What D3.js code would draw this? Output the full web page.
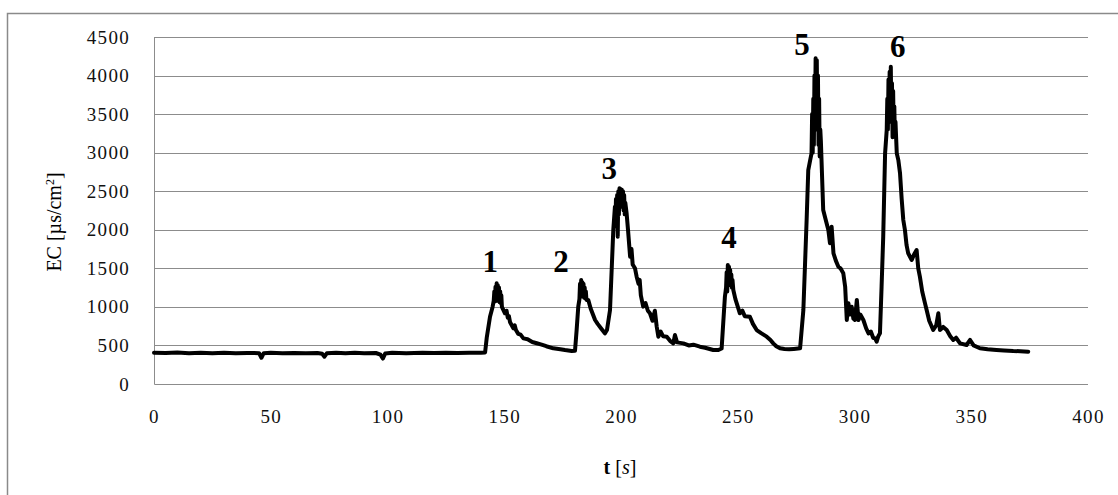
<!DOCTYPE html>
<html>
<head>
<meta charset="utf-8">
<script src="https://cdn.jsdelivr.net/npm/d3@7"></script>
<style>
  html, body { margin: 0; padding: 0; background: #fff; }
  svg { display: block; }
  text { font-family: "Liberation Serif", "Times New Roman", serif; fill: #000; }
</style>
</head>
<body>
<svg id="chart" width="1118" height="495"></svg>
<script>
// ---- data ----
const xTicks = [0, 50, 100, 150, 200, 250, 300, 350, 400];
const yTicks = [0, 500, 1000, 1500, 2000, 2500, 3000, 3500, 4000, 4500];

const timeS = [
  0, 5, 10, 15, 20, 25, 30, 35, 40, 45, 46, 47, 50, 55, 60, 65, 70, 72, 73, 74, 78, 82, 86, 90, 95, 97, 98, 99,
  102, 108, 115, 120, 125, 130, 135, 140, 141.8,
  // peak 1
  142.5, 143.9, 145, 145.5, 145.75, 146, 146.25, 146.5, 146.75, 147, 147.25, 147.5, 147.75, 148, 148.25, 148.5,
  148.75, 149, 150.3, 151, 151.5, 152, 152.5, 153.9, 154.5, 155, 156, 157, 158.2, 160, 162, 163.9, 166, 168,
  171, 174, 176, 178.9, 180.3,
  // peak 2
  181, 181.7, 182.2, 182.45, 182.7, 182.95, 183.2, 183.45, 183.7, 183.95, 184.2, 184.45, 184.7, 184.95, 185.2,
  186, 187, 188.9, 190, 191.5, 193.1, 194, 195.3, 196.7, 197.4,
  // peak 3
  197.6, 197.85, 198.1, 198.35, 198.6, 198.85, 199.1, 199.35, 199.6, 199.85, 200.1, 200.35, 200.6, 200.85,
  201.1, 201.35, 201.6, 201.85, 202.4, 203, 203.9, 204.5, 205, 206, 206.7, 207.5, 208, 208.5, 209.5, 210.5,
  211.5, 212.4, 213.5, 214.5, 215.3, 216, 217, 218, 219.6, 221, 222.4, 223.1, 224, 226.7, 229, 231, 233.8,
  236, 239.5, 241.7, 243.1,
  // peak 4
  243.8, 244.5, 245, 245.25, 245.5, 245.75, 246, 246.25, 246.5, 246.75, 247, 247.25, 247.5, 247.75, 248.1,
  249, 250.9, 252, 253, 255.2, 256.5, 258.1, 260, 262.4, 264, 265.2, 266.5, 268.1, 270, 272, 274, 276.7,
  // peak 5
  278.1, 279.5, 280.2, 281, 281.6, 281.85, 282.1, 282.35, 282.6, 282.85, 283.1, 283.35, 283.6, 283.85, 284.1,
  284.35, 284.6, 284.85, 285.1, 285.35, 285.6, 286.6, 287.5, 288.8, 289.5, 290.2, 291, 292, 293.1, 294, 295.2,
  296, 296.7, 297.4, 298.1, 298.8, 299.5, 300.2, 301, 301.7, 302.5, 303.8, 305, 306, 307, 308, 308.8, 309.5,
  310.2, 310.9,
  // peak 6
  311.6, 312.3, 313.1, 313.8, 314.05, 314.3, 314.55, 314.8, 315.05, 315.3, 315.55, 315.8, 316.05, 316.3,
  316.55, 316.8, 317.05, 317.3, 317.55, 318.1, 318.8, 319.5, 320.2, 320.9, 321.6, 322.3, 323, 324.5, 325.5,
  326.6, 327.3, 328, 329, 330.2, 330.9, 332, 333.7, 335, 335.9, 336.6, 338, 339.5, 341, 342.3, 343.5, 345.2,
  348, 349.5, 351, 353.7, 357, 360.8, 364, 368, 371, 374.4
];
const ecValue = [
  405, 402, 408, 400, 404, 398, 405, 400, 403, 400, 340, 400, 405, 398, 402, 398, 402, 392, 355, 398, 404, 400, 405, 398, 402, 380, 330, 395,
  405, 400, 404, 402, 405, 403, 405, 405, 410,
  // peak 1
  600, 873, 1000, 1080, 1200, 1070, 1260, 1090, 1306, 1080, 1280, 1100, 1250, 1060, 1200, 1050,
  1150, 1000, 917, 950, 860, 880, 800, 722, 760, 700, 650, 640, 592, 580, 545, 528, 510, 490,
  463, 450, 440, 428, 430,
  // peak 2
  700, 1003, 1100, 1300, 1130, 1349, 1140, 1320, 1150, 1300, 1120, 1250, 1110, 1200, 1090,
  1089, 980, 830, 780, 720, 657, 700, 960, 1997, 2300,
  // peak 3
  2100, 2400, 2050, 2450, 1911, 2500, 2200, 2538, 2300, 2530, 2350, 2520, 2300, 2500,
  2250, 2450, 2200, 2350, 2214, 2000, 1651, 1750, 1550, 1500, 1392, 1300, 1350, 1150, 1003, 1050,
  950, 917, 820, 950, 743, 614, 680, 620, 614, 560, 527, 635, 540, 527, 500, 510, 484,
  470, 441, 441, 460,
  // peak 4
  800, 1132, 1250, 1450, 1200, 1543, 1300, 1520, 1320, 1480, 1280, 1420, 1250, 1350, 1219,
  1100, 917, 950, 880, 873, 780, 700, 660, 614, 570, 527, 490, 463, 455, 450, 455, 463,
  // peak 5
  960, 2127, 2775, 2900, 2992, 3500, 3000, 3700, 3100, 4000, 3400, 4224, 3500, 4200, 3300,
  4000, 3100, 3700, 2950, 3300, 3150, 2257, 2150, 1997, 1825, 2040, 1695, 1600, 1521, 1500, 1436,
  1262, 830, 1046, 900, 1003, 850, 830, 1089, 830, 900, 830, 720, 657, 680, 600, 592, 549,
  620, 657,
  // peak 6
  1262, 1911, 2992, 3294, 3700, 3300, 3950, 3400, 4050, 3500, 4115, 3400, 3900, 3200,
  3800, 3250, 3600, 3207, 3400, 2992, 2900, 2732, 2400, 2127, 1997, 1800, 1695, 1608, 1680,
  1738, 1500, 1392, 1200, 1046, 960, 820, 700, 760, 917, 700, 740, 700, 620, 571, 600, 527,
  506, 571, 500, 463, 450, 441, 435, 428, 425, 419
];

const peakLabels = ["1", "2", "3", "4", "5", "6"];
const peakLabelT = [144.0, 174.3, 195.0, 246.3, 277.5, 318.5];
const peakLabelV = [1450, 1450, 2660, 1770, 4270, 4240];

const yTitle = "EC [µs/cm";
const xTitleMain = "t";
const xTitleUnit = "s";

// ---- layout ----
const svg = d3.select("#chart");
const mLeft = 154, mRight = 1088, mTop = 37, mBottom = 384;

const x = d3.scaleLinear().domain([0, 400]).range([mLeft, mRight]);
const y = d3.scaleLinear().domain([0, 4500]).range([mBottom, mTop]);

// outer frame
svg.append("path")
  .attr("d", `M7.5,495 L7.5,13.5 L1118,13.5`)
  .attr("fill", "none").attr("stroke", "#8a8a8a").attr("stroke-width", 1.5);

// gridlines
svg.append("g")
  .selectAll("line").data(yTicks.filter(d => d > 0)).join("line")
  .attr("x1", mLeft).attr("x2", mRight)
  .attr("y1", d => Math.round(y(d)) + 0.5).attr("y2", d => Math.round(y(d)) + 0.5)
  .attr("stroke", "#8c8c8c").attr("stroke-width", 1);

// plot-area left and bottom edges
svg.append("path")
  .attr("d", `M${mLeft + 0.5},${mTop} L${mLeft + 0.5},${mBottom + 0.5} L${mRight},${mBottom + 0.5}`)
  .attr("fill", "none").attr("stroke", "#8c8c8c").attr("stroke-width", 1);

// axes (labels only)
const fmt = d3.format("d");
const yAxis = d3.axisLeft(y).tickValues(yTicks).tickFormat(fmt).tickSize(0).tickPadding(24);
const gy = svg.append("g").attr("transform", `translate(${mLeft},0)`).call(yAxis);
gy.select(".domain").remove();
gy.selectAll("text").style("font-size", "19px").style("letter-spacing", "1.3px")
  .style("font-family", "'Liberation Serif', serif").style("fill", "#111");

const xAxis = d3.axisBottom(x).tickValues(xTicks).tickFormat(fmt).tickSize(0).tickPadding(26);
const gx = svg.append("g").attr("transform", `translate(0,${mBottom})`).call(xAxis);
gx.select(".domain").remove();
gx.selectAll("text").style("font-size", "19px").style("letter-spacing", "1.3px")
  .style("font-family", "'Liberation Serif', serif").style("fill", "#111");

// series
const pts = timeS.map((t, i) => [t, ecValue[i]]);
svg.append("path")
  .datum(pts)
  .attr("fill", "none")
  .attr("stroke", "#000")
  .attr("stroke-width", 4)
  .attr("stroke-linejoin", "round")
  .attr("stroke-linecap", "round")
  .attr("d", d3.line().x(d => x(d[0])).y(d => y(d[1])));

// peak labels
svg.append("g").selectAll("text").data(peakLabels).join("text")
  .attr("x", (d, i) => x(peakLabelT[i]))
  .attr("y", (d, i) => y(peakLabelV[i]))
  .attr("text-anchor", "middle")
  .style("font-size", "31px").style("font-weight", "bold")
  .text(d => d);

// y title
const yt = svg.append("text")
  .attr("transform", `translate(61,222) rotate(-90)`)
  .attr("text-anchor", "middle")
  .style("font-size", "20px");
yt.append("tspan").text(yTitle);
yt.append("tspan").attr("dy", -7).style("font-size", "12px").text("2");
yt.append("tspan").attr("dy", 7).text("]");

// x title
const xt = svg.append("text")
  .attr("x", 620).attr("y", 474)
  .attr("text-anchor", "middle")
  .style("font-size", "20px");
xt.append("tspan").style("font-weight", "bold").text(xTitleMain + " ");
xt.append("tspan").text("[");
xt.append("tspan").style("font-style", "italic").text(xTitleUnit);
xt.append("tspan").text("]");
</script>
</body>
</html>
